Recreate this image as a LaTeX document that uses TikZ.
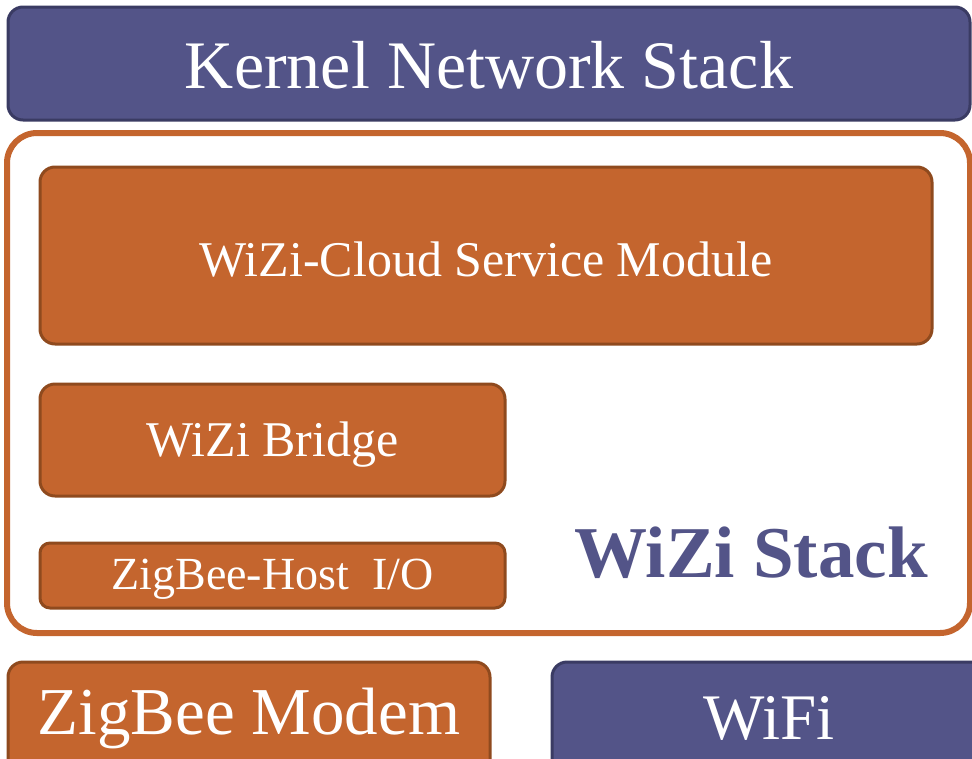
\documentclass[tikz,border=0pt]{standalone}
\usepackage{fontspec}
\setmainfont{Liberation Serif}
\definecolor{kblue}{HTML}{535488}
\definecolor{kblueD}{HTML}{3A3B63}
\definecolor{korange}{HTML}{C4652E}
\definecolor{korangeD}{HTML}{8F4A1E}
\tikzset{
  bluebox/.style={draw=kblueD, fill=kblue, line width=3pt, rounded corners=15pt, text=white, inner sep=0pt, anchor=center},
  orangebox/.style={draw=korangeD, fill=korange, line width=3pt, rounded corners=15pt, text=white, inner sep=0pt, anchor=center},
}
\newcommand{\fs}[1]{\fontsize{#1}{#1}\selectfont}
\newcommand{\dn}[2]{\raisebox{0pt}[\dimexpr\height+#1pt\relax][\depth]{#2}}
\begin{document}
\begin{tikzpicture}[x=1pt,y=-1pt]
\useasboundingbox (0,0) rectangle (972,758);
\clip (0,0) rectangle (972,758);
\node[bluebox, minimum width=962pt, minimum height=113pt] (kernel) at (489,63.5) {\fs{68}\dn{4}{Kernel Network Stack}};
\node[draw=korange, fill=white, line width=6pt, rounded corners=30pt, minimum width=963pt, minimum height=500pt, inner sep=0pt] (stack) at (488.5,383) {};
\node[orangebox, minimum width=892pt, minimum height=177pt] (cloud) at (486,255.5) {\fs{50}\dn{8}{WiZi-Cloud Service Module}};
\node[orangebox, minimum width=465pt, minimum height=112pt] (bridge) at (272.5,440) {\fs{50}\dn{10}{WiZi Bridge}};
\node[orangebox, rounded corners=10pt, minimum width=465pt, minimum height=65pt] (host) at (272.5,575.5) {\fs{46}\dn{8}{ZigBee-Host\ \ I/O}};
\node[text=kblue, inner sep=0pt] (label) at (751,553) {\fs{73}\bfseries WiZi Stack};
\node[orangebox, minimum width=482pt, minimum height=113pt] (modem) at (249,718.5) {\fs{67}ZigBee Modem};
\node[bluebox, minimum width=434pt, minimum height=113pt] (wifi) at (769,718.5) {\fs{65}WiFi};
\end{tikzpicture}
\end{document}
